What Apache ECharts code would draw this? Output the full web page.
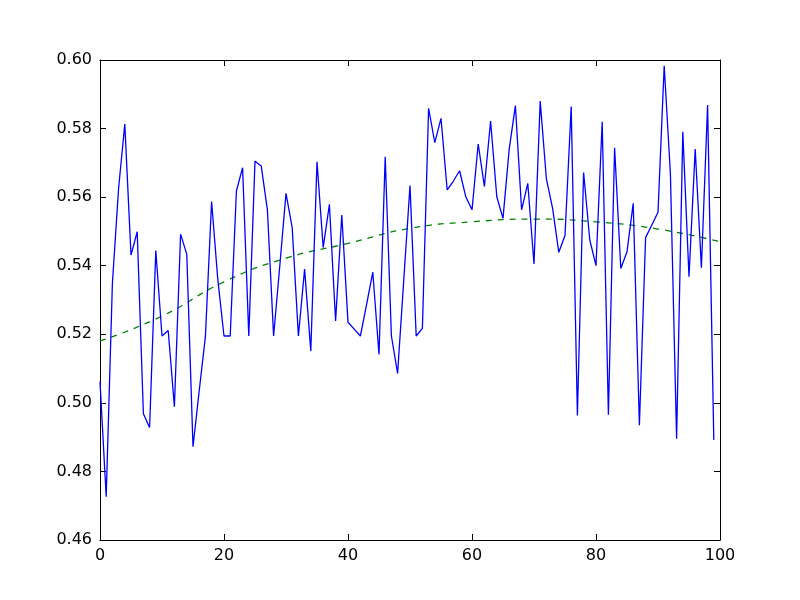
<!DOCTYPE html>
<html>
<head>
<meta charset="utf-8">
<script src="https://cdn.jsdelivr.net/npm/echarts@6/dist/echarts.min.js"></script>
<style>html,body{margin:0;padding:0;background:#fff}#c{width:800px;height:600px}</style>
</head>
<body>
<div id="c"></div>
<script>
var values = [0.5062,0.4726,0.5349,0.5626,0.5813,0.5431,0.5499,0.4968,0.4928,0.5444,
0.5195,0.5211,0.4989,0.5492,0.5433,0.4872,0.5035,0.5193,0.5587,0.536,
0.5195,0.5195,0.5618,0.5686,0.5195,0.5705,0.5691,0.5563,0.5195,0.540,
0.5611,0.5511,0.5195,0.539,0.5151,0.5703,0.5453,0.5579,0.5239,0.5548,
0.5235,0.5215,0.5195,0.5287,0.5381,0.5141,0.5718,0.5195,0.5086,0.536,
0.5634,0.5195,0.5217,0.5859,0.5759,0.583,0.5621,0.5647,0.5677,0.5601,
0.5563,0.5755,0.5631,0.5822,0.5601,0.5538,0.574,0.5867,0.5563,0.564,
0.5405,0.588,0.5653,0.5567,0.5439,0.5488,0.5864,0.4963,0.5672,0.5475,
0.540,0.582,0.4965,0.5744,0.5392,0.5441,0.5582,0.4935,0.5482,0.5519,
0.5556,0.5983,0.5669,0.4895,0.5791,0.5368,0.574,0.5394,0.5869,0.4892];
var trendX = [0,10,20,30,40,50,60,70,80,90,100];
var trendY = [0.518,0.5253,0.5353,0.5422,0.5465,0.5509,0.5528,0.5536,0.5528,0.5507,0.547];
var xTicks = [0,20,40,60,80,100];
var yTicks = [0.46,0.48,0.50,0.52,0.54,0.56,0.58,0.60];

var mainData = values.map(function(v,i){return [i,v];});
var trendData = trendX.map(function(x,i){return [x,trendY[i]];});
var font = {fontFamily:'DejaVu Sans', fontSize:16, color:'#000'};
var lineStyle = {color:'#000', width:1};
var chart = echarts.init(document.getElementById('c'));
chart.setOption({
  animation:false,
  backgroundColor:'#fff',
  grid:{left:100, right:80, top:60, bottom:60, show:false},
  xAxis:[
    {type:'value', min:0, max:100, interval:20, position:'bottom',
     axisLine:{show:true, onZero:false, lineStyle:lineStyle},
     axisTick:{show:true, inside:true, length:6, lineStyle:lineStyle},
     axisLabel:Object.assign({margin:8}, font),
     splitLine:{show:false}},
    {type:'value', min:0, max:100, interval:20, position:'top',
     axisLine:{show:true, onZero:false, lineStyle:lineStyle},
     axisTick:{show:true, inside:true, length:6, lineStyle:lineStyle},
     axisLabel:{show:false}, splitLine:{show:false}}
  ],
  yAxis:[
    {type:'value', min:0.46, max:0.60, interval:0.02, position:'left',
     axisLine:{show:true, onZero:false, lineStyle:lineStyle},
     axisTick:{show:true, inside:true, length:6, lineStyle:lineStyle},
     axisLabel:Object.assign({margin:8, formatter:function(v){return v.toFixed(2);}}, font),
     splitLine:{show:false}},
    {type:'value', min:0.46, max:0.60, interval:0.02, position:'right',
     axisLine:{show:true, onZero:false, lineStyle:lineStyle},
     axisTick:{show:true, inside:true, length:6, lineStyle:lineStyle},
     axisLabel:{show:false}, splitLine:{show:false}}
  ],
  series:[
    {type:'line', data:mainData, showSymbol:false, symbol:'none',
     lineStyle:{color:'#0000ff', width:1.3}, z:3},
    {type:'line', data:trendData, showSymbol:false, symbol:'none', smooth:true,
     lineStyle:{color:'#008000', width:1.3, type:[6,6]}, z:2}
  ]
});
</script>
</body>
</html>
